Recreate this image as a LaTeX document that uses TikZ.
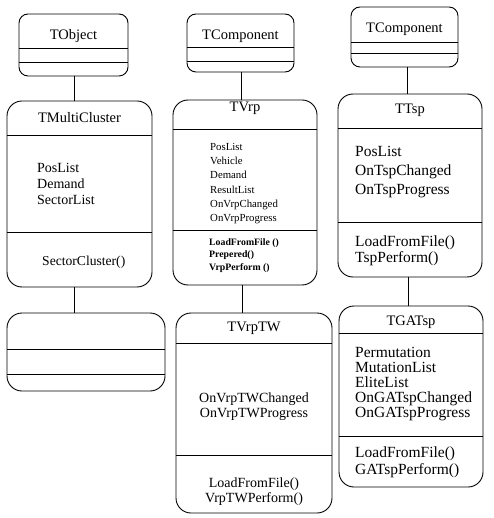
\documentclass[tikz,border=0pt]{standalone}
\usepackage{fontspec}
\setmainfont{Liberation Serif}
\begin{document}
\begin{tikzpicture}[x=1pt,y=-1pt,
  ubox/.style={draw, line width=0.9pt, rectangle, inner sep=0pt, outer sep=0pt},
  bigbox/.style={ubox, rounded corners=15pt},
  smallbox/.style={ubox, rounded corners=9pt},
  sepline/.style={line width=0.9pt},
  link/.style={line width=0.9pt},
  ttl/.style={anchor=base, inner sep=0pt, font=\fontsize{14.5}{15}\selectfont},
  txt/.style={anchor=base west, inner sep=0pt, font=\fontsize{14}{15}\selectfont},
  wtxt/.style={anchor=base west, inner sep=0pt, font=\fontsize{15.5}{16}\selectfont},
  ctxt/.style={anchor=base, inner sep=0pt, font=\fontsize{14}{15}\selectfont},
  stxt/.style={anchor=base west, inner sep=0pt, font=\fontsize{10.8}{11}\selectfont},
  mtxt/.style={anchor=base west, inner sep=0pt, font=\fontsize{9.8}{11}\selectfont\bfseries}
]
\useasboundingbox (0,0) rectangle (493,518);
\newcommand\umlbox[6]{%
  \node[#2, minimum width={(#5-#3)*1pt}, minimum height={(#6-#4)*1pt}] (#1) at ({(#3+#5)/2},{(#4+#6)/2}) {};}
\newcommand\usep[2]{\draw[sepline] (#1.west |- 0,#2) -- (#1.east |- 0,#2);}

% column 1
\umlbox{tobject}{smallbox}{19}{14}{128}{76}
\usep{tobject}{48}\usep{tobject}{62}
\node[ttl] (tobjectT) at (73.5,40) {TObject};

\umlbox{tmulti}{bigbox}{7}{101}{152}{287}
\usep{tmulti}{135}\usep{tmulti}{232}
\node[ttl] (tmultiT) at (79.5,123) {TMultiCluster};
\node[txt] (tmA1) at (37,173) {PosList};
\node[txt] (tmA2) at (37,189) {Demand};
\node[txt] (tmA3) at (37,205) {SectorList};
\node[txt, font=\fontsize{13.6}{15}\selectfont] (tmM1) at (42,265) {SectorCluster()};

\umlbox{blank}{bigbox}{7}{313}{165}{391}
\usep{blank}{349}\usep{blank}{374}

\coordinate (c1) at (74,0);
\draw[link] (c1 |- tobject.south) -- (c1 |- tmulti.north);
\draw[link] (c1 |- tmulti.south) -- (c1 |- blank.north);

% column 2
\umlbox{tcomp2}{smallbox}{187}{14}{294}{72}
\usep{tcomp2}{47}\usep{tcomp2}{61}
\node[ttl] (tcomp2T) at (240.5,40) {TComponent};

\umlbox{tvrp}{bigbox}{173}{100}{317}{285}
\usep{tvrp}{129}\usep{tvrp}{230}
\node[ttl] (tvrpT) at (245,112) {TVrp};
\node[stxt] (tvA1) at (210,150.5) {PosList};
\node[stxt] (tvA2) at (210,164.7) {Vehicle};
\node[stxt] (tvA3) at (210,178.9) {Demand};
\node[stxt] (tvA4) at (210,193.1) {ResultList};
\node[stxt] (tvA5) at (210,207.3) {OnVrpChanged};
\node[stxt] (tvA6) at (210,221.5) {OnVrpProgress};
\node[mtxt] (tvM1) at (209,245) {LoadFromFile ()};
\node[mtxt] (tvM2) at (209,257.5) {Prepered()};
\node[mtxt] (tvM3) at (209,270) {VrpPerform ()};

\umlbox{tvrptw}{bigbox}{176}{313}{332}{513}
\usep{tvrptw}{343}\usep{tvrptw}{455}
\node[ttl] (tvrptwT) at (254,331) {TVrpTW};
\node[ctxt] (twA1) at (254,402) {OnVrpTWChanged};
\node[ctxt] (twA2) at (254,417) {OnVrpTWProgress};
\node[ctxt] (twM1) at (254,487) {LoadFromFile()};
\node[ctxt] (twM2) at (254,502) {VrpTWPerform()};

\coordinate (c2) at (241,0);
\draw[link] (c2 |- tcomp2.south) -- (c2 |- tvrp.north);
\coordinate (c2b) at (242,0);
\draw[link] (c2b |- tvrp.south) -- (c2b |- tvrptw.north);

% column 3
\umlbox{tcomp3}{smallbox}{351}{7}{458}{67}
\usep{tcomp3}{42}\usep{tcomp3}{53}
\node[ttl] (tcomp3T) at (404.5,33) {TComponent};

\umlbox{ttsp}{bigbox}{338}{94}{482}{277}
\usep{ttsp}{128}\usep{ttsp}{222}
\node[ttl] (ttspT) at (410,114) {TTsp};
\node[wtxt] (ttA1) at (355,157) {PosList};
\node[wtxt] (ttA2) at (355,176) {OnTspChanged};
\node[wtxt] (ttA3) at (355,195) {OnTspProgress};
\node[wtxt] (ttM1) at (355,246) {LoadFromFile()};
\node[wtxt] (ttM2) at (355,262) {TspPerform()};

\umlbox{tgatsp}{bigbox}{339}{306}{483}{487}
\usep{tgatsp}{333}\usep{tgatsp}{436}
\node[ttl] (tgatspT) at (411,325) {TGATsp};
\node[wtxt] (tgA1) at (355,357) {Permutation};
\node[wtxt] (tgA2) at (355,372) {MutationList};
\node[wtxt] (tgA3) at (355,387) {EliteList};
\node[wtxt] (tgA4) at (355,402) {OnGATspChanged};
\node[wtxt] (tgA5) at (355,417) {OnGATspProgress};
\node[wtxt] (tgM1) at (355,457) {LoadFromFile()};
\node[wtxt] (tgM2) at (355,474) {GATspPerform()};

\coordinate (c3) at (407,0);
\draw[link] (c3 |- tcomp3.south) -- (c3 |- ttsp.north);
\coordinate (c3b) at (408,0);
\draw[link] (c3b |- ttsp.south) -- (c3b |- tgatsp.north);
\end{tikzpicture}
\end{document}
